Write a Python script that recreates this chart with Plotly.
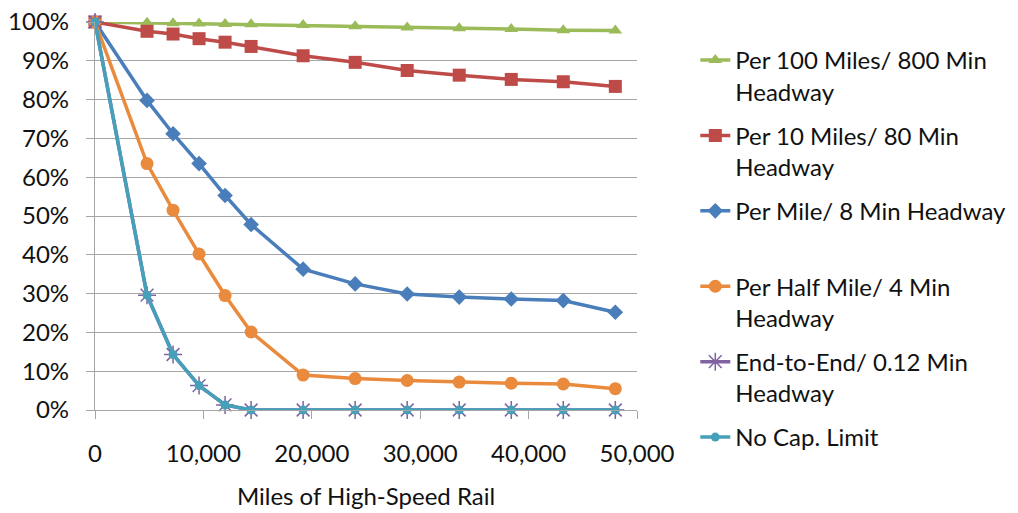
import plotly.graph_objects as go

miles = [0, 4800, 7200, 9600, 12000, 14400, 19200, 24000, 28800, 33600, 38400, 43200, 48000]

per100 = [100, 99.8, 99.7, 99.6, 99.5, 99.4, 99.2, 98.9, 98.6, 98.4, 98.2, 97.9, 97.8]
per10 = [100, 97.6, 96.9, 95.7, 94.8, 93.7, 91.3, 89.6, 87.5, 86.3, 85.2, 84.6, 83.4]
per_mile = [100, 79.8, 71.2, 63.5, 55.3, 47.8, 36.3, 32.5, 29.9, 29.1, 28.6, 28.2, 25.2]
per_half = [100, 63.5, 51.5, 40.2, 29.5, 20.1, 9.0, 8.1, 7.6, 7.2, 6.9, 6.7, 5.5]
end_to_end = [100, 29.6, 14.3, 6.3, 1.3, 0, 0, 0, 0, 0, 0, 0, 0]
no_cap = [100, 29.6, 14.3, 6.3, 1.3, 0, 0, 0, 0, 0, 0, 0, 0]

names = [
    "Per 100 Miles/ 800 Min<br>Headway",
    "Per 10 Miles/ 80 Min<br>Headway",
    "Per Mile/ 8 Min Headway<br> ",
    "Per Half Mile/ 4 Min<br>Headway",
    "End-to-End/ 0.12 Min<br>Headway",
    "No Cap. Limit<br> ",
]
series = [per100, per10, per_mile, per_half, end_to_end, no_cap]
colors = ["#9BBB59", "#BE4B48", "#4A7EBB", "#EA8A3C", "#7E62A1", "#46A0BA"]
symbols = ["triangle-up", "square", "diamond", "circle", "asterisk-open", "circle"]
sizes = [12, 13, 12, 13, 15, 9]

fig = go.Figure()
for i, (nm, ys) in enumerate(zip(names, series)):
    fig.add_trace(go.Scatter(
        x=miles, y=ys, name=nm, mode="lines+markers",
        line=dict(color=colors[i], width=3.5),
        marker=dict(symbol=symbols[i], size=sizes[i], color=colors[i],
                    line=dict(color=colors[i], width=1.5 if i == 4 else 0)),
        cliponaxis=False, legendgroup=f"g{i}",
    ))

grey = "#A6A6A6"
font = "Lato, Noto Sans, sans-serif"
fs = 24
fig.update_layout(
    width=1018, height=513,
    margin=dict(l=95, r=381, t=22, b=103, autoexpand=False),
    paper_bgcolor="white", plot_bgcolor="white",
    font=dict(family=font, size=fs, color="#111111"),
    showlegend=True,
    legend=dict(
        xref="container", yref="container", x=0.683, y=0.926,
        xanchor="left", yanchor="top", maxheight=505,
        valign="top", traceorder="grouped", tracegroupgap=10,
        font=dict(family=font, size=fs, color="#111111"),
        bgcolor="rgba(0,0,0,0)",
    ),
    xaxis=dict(
        range=[0, 50000], dtick=10000, tickformat=",",
        showgrid=False, zeroline=False, automargin=False,
        showline=True, linecolor=grey, linewidth=1.3,
        ticks="outside", ticklen=8, tickcolor=grey, tickwidth=1.3,
        ticklabelstandoff=14,
        title=dict(text="Miles of High-Speed Rail", font=dict(size=fs), standoff=22),
    ),
    yaxis=dict(
        range=[0, 100], dtick=10, ticksuffix="%",
        showgrid=True, gridcolor=grey, gridwidth=1.3,
        zeroline=False, automargin=False,
        showline=True, linecolor=grey, linewidth=1.3,
        ticks="outside", ticklen=8, tickcolor=grey, tickwidth=1.3,
        ticklabelstandoff=12,
    ),
)

fig.write_html("out.html")
